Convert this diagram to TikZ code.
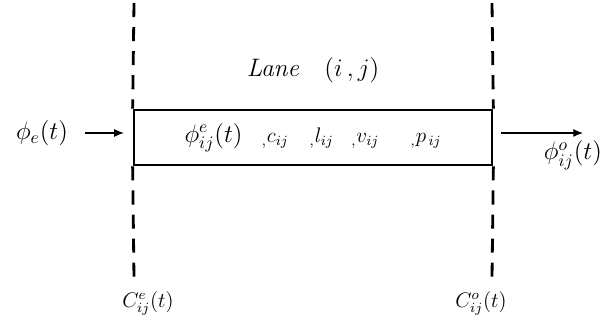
\documentclass[tikz,border=0pt]{standalone}
\usepackage{amsmath, amssymb}
\usetikzlibrary{arrows.meta,positioning}

\begin{document}
\begin{tikzpicture}[x=0.02cm, y=-0.02cm, every node/.style={font=\Large},
	lanebox/.style={draw, rectangle, line width=1.6pt, minimum width=7.16cm, minimum height=1.1cm, inner sep=0pt},
	border/.style={line width=1.6pt, dash pattern=on 8pt off 5.7pt},
	flow/.style={-{Latex[length=5.5pt,width=4.5pt]}, line width=0.6pt},
	cut/.style={font=\large}]
	\useasboundingbox (0,0) rectangle (608,320);
	% the lane and its contents
	\node[lanebox] (lane) at (313,137.5) {$\phi^{e}_{ij}(t)$\hspace{11pt}{\large$_{,}c_{ij}$\hspace{12pt}$_{,}l_{ij}$\hspace{10pt}$_{,}v_{ij}$\hspace{18pt}$_{,}p_{\,ij}$}};
	\node (title) [above=0.4cm of lane] {\textit{Lane}\quad$(i\,,j)$};
	% entry and exit boundaries
	\coordinate (etop) at (134,3);
	\coordinate (ebot) at (134,278);
	\coordinate (otop) at (492,3);
	\coordinate (obot) at (492,278);
	\draw[border] (etop) -- (lane.north west);
	\draw[border] (lane.south west) -- (ebot);
	\draw[border] (otop) -- (lane.north east);
	\draw[border] (lane.south east) -- (obot);
	\node[cut] (centry) [below=0.14cm of ebot, xshift=0.28cm] {$C^{e}_{ij}(t)$};
	\node[cut] (cexit) [below=0.14cm of obot, xshift=-0.22cm] {$C^{o}_{ij}(t)$};
	% flows in and out
	\node (phie) at (42,133) {$\phi_{e}(t)$};
	\coordinate (outend) at (583,133);
	\node (phio) at (573,155) {$\phi^{o}_{ij}(t)$};
	\draw[flow, shorten <=6pt, shorten >=5pt] (phie) -- (phie -| lane.west);
	\draw[flow, shorten <=4.5pt] (lane.east |- outend) -- (outend);
\end{tikzpicture}
\end{document}
